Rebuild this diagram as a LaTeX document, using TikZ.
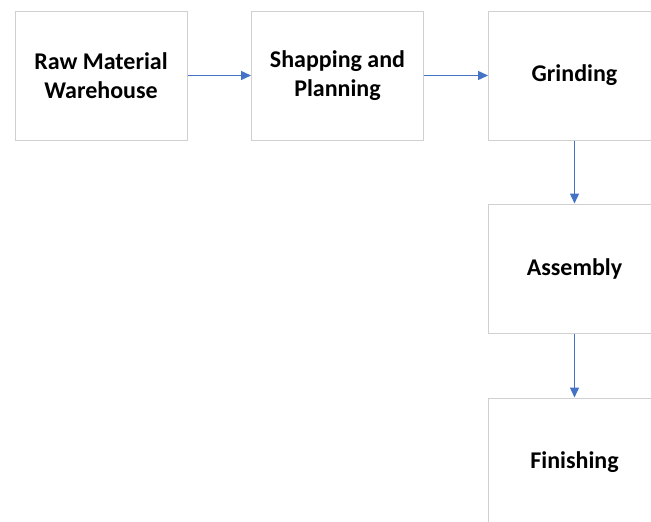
\documentclass[tikz,border=0pt]{standalone}
\usepackage{fontspec}
\setmainfont{Carlito}
\usetikzlibrary{arrows.meta}
\definecolor{boxline}{HTML}{D0D0D0}
\definecolor{arrowblue}{HTML}{4472C4}
\tikzset{
  stepbox/.style={draw=boxline, line width=1pt, fill=white, rectangle,
    minimum width=172pt, minimum height=129pt, inner sep=0pt, align=center,
    font=\fontsize{24}{29.5}\selectfont\bfseries},
  flow/.style={draw=arrowblue, line width=1.4pt, -{Triangle[length=10pt,width=9pt]}}
}
\begin{document}
\begin{tikzpicture}[x=1pt,y=-1pt]
\useasboundingbox[fill=white] (0,0) rectangle (651,522);
\clip (0,0) rectangle (651,522);
\node[stepbox] (raw) at (101,75.5) {Raw Material\\Warehouse};
\node[stepbox] (shape) at (337.5,75.5) {Shapping and\\Planning};
\node[stepbox] (grind) at (574.5,75.5) {Grinding};
\node[stepbox] (asm) at (574.5,268.5) {Assembly};
\node[stepbox] (fin) at (574.5,462.5) {Finishing};
\draw[flow] (raw) -- (shape);
\draw[flow] (shape) -- (grind);
\draw[flow] (grind) -- (asm);
\draw[flow] (asm) -- (fin);
\end{tikzpicture}
\end{document}
